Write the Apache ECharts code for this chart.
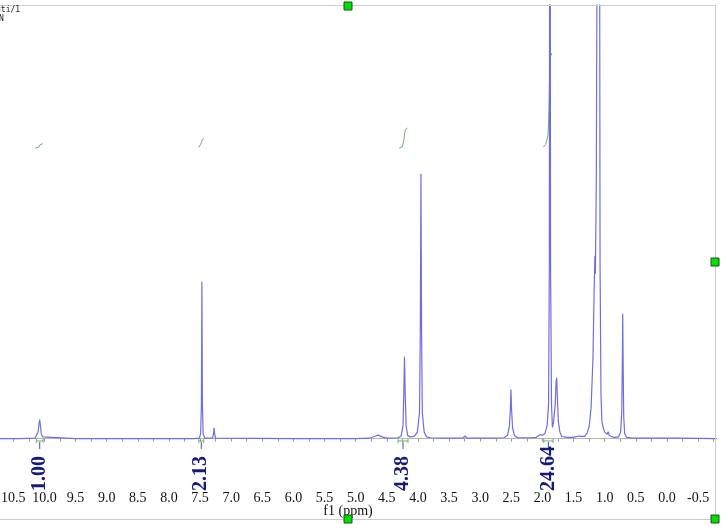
<!DOCTYPE html>
<html>
<head>
<meta charset="utf-8">
<script src="https://cdn.jsdelivr.net/npm/echarts@6/dist/echarts.min.js"></script>
<style>
html,body{margin:0;padding:0;background:#fff;}
#chart{width:727px;height:530px;}
</style>
</head>
<body>
<div id="chart"></div>
<script>
// ---- data ----
const spectrumPpm = [10.72,10.40,10.15,10.12,10.10,10.085,10.075,10.065,10.05,10.03,10.0,9.5,8.5,7.60,7.51,7.49,7.478,7.47,7.462,7.45,7.42,7.30,7.285,7.275,7.265,7.25,6.0,5.0,4.78,4.70,4.64,4.58,4.50,4.32,4.27,4.24,4.228,4.216,4.204,4.19,4.165,4.12,4.06,4.01,3.975,3.962,3.952,3.942,3.93,3.90,3.86,3.80,3.60,3.47,3.44,3.41,3.28,3.245,3.21,2.80,2.62,2.56,2.53,2.515,2.506,2.497,2.48,2.45,2.40,2.20,2.10,2.04,2.02,2.00,1.96,1.925,1.902,1.89,1.88,1.87,1.855,1.84,1.82,1.795,1.782,1.772,1.762,1.745,1.72,1.69,1.60,1.50,1.42,1.40,1.37,1.32,1.285,1.25,1.22,1.19,1.17,1.158,1.15,1.135,1.115,1.10,1.085,1.075,1.06,1.045,1.025,1.00,0.96,0.945,0.93,0.91,0.88,0.84,0.78,0.745,0.727,0.717,0.711,0.705,0.695,0.68,0.65,0.55,0.0,-0.15,-0.175,-0.20,-0.80];
const spectrumInt = [0,0,0.1,0.5,1.6,3.5,4.4,3.2,1.2,0.4,0.1,0,0,0,0.1,1.2,8,36.2,8,1.0,0.1,0.1,1.0,2.5,1.0,0.1,0,0,0.1,0.5,0.8,0.4,0.1,0.2,0.6,3,10,18.9,10,3,0.7,0.4,0.5,1.5,6,25,61.1,25,6,1.5,0.4,0.2,0.1,0.1,0.4,0.1,0.1,0.6,0.1,0.1,0.2,0.8,3,7,11.3,7,2.5,0.7,0.2,0.2,0.3,0.9,1.3,0.8,1.2,3,8,40,200,40,8,2.6,4,8,13,14.1,10,4,1.5,0.5,0.3,0.3,0.6,0.8,0.5,0.5,1.2,2.8,7,18,34,42.2,38,60,150,300,150,40,10,4,2.5,1.5,1.0,1.6,0.8,1.1,0.4,0.3,0.4,1.5,6,18,28.8,18,5,1.2,0.3,0.1,0.1,0.1,0.5,0.1,0];

// integral curves (ppm, curve level)
const integ1Ppm = [10.15,10.09,10.07,10.03];
const integ1Val = [67.0,67.2,67.8,68.0];
const integ2Ppm = [7.52,7.49,7.475,7.465,7.44];
const integ2Val = [67.2,67.4,68.3,69.0,69.2];
const integ3Ppm = [4.30,4.25,4.225,4.205,4.17];
const integ3Val = [67.0,67.3,69.0,71.2,71.6];
const integ4Ppm = [1.99,1.95,1.91,1.895,1.885,1.875,1.85];
const integ4Val = [67.2,67.8,70.0,76.0,84.0,88.0,88.9];

// integration regions and their labels
const integralFrom = [10.13,7.52,4.32,1.98];
const integralTo = [10.02,7.44,4.16,1.83];
const integralLabels = ['1.00','2.13','4.38','24.64'];

// axis ticks / labels
const tickValues = [-0.75,-0.5,-0.25,0,0.25,0.5,0.75,1,1.25,1.5,1.75,2,2.25,2.5,2.75,3,3.25,3.5,3.75,4,4.25,4.5,4.75,5,5.25,5.5,5.75,6,6.25,6.5,6.75,7,7.25,7.5,7.75,8,8.25,8.5,8.75,9,9.25,9.5,9.75,10,10.25,10.5];
const labelValues = [-0.5,0,0.5,1,1.5,2,2.5,3,3.5,4,4.5,5,5.5,6,6.5,7,7.5,8,8.5,9,9.5,10,10.5];

const zip = (a,b) => a.map((v,i)=>[v,b[i]]);

const chart = echarts.init(document.getElementById('chart'), null, {renderer:'canvas'});
const integColor = '#6fb06f';
const integSeries = [[integ1Ppm,integ1Val],[integ2Ppm,integ2Val],[integ3Ppm,integ3Val],[integ4Ppm,integ4Val]].map(p => ({
  type:'line', data: zip(p[0],p[1]), symbol:'none', silent:true,
  lineStyle:{color:integColor, width:1}, z:2
}));

chart.setOption({
  animation:false,
  backgroundColor:'#ffffff',
  grid:{left:0, right:12, top:5, bottom:48, containLabel:false, outerBoundsMode:'none'},
  xAxis:{
    type:'value', inverse:true, min:-0.771, max:10.713,
    splitLine:{show:false},
    axisLine:{show:true, lineStyle:{color:'#b4b4b4', width:1}},
    axisTick:{show:true, customValues:tickValues, length:3, inside:false, lineStyle:{color:'#999'}},
    axisLabel:{show:true, customValues:labelValues, margin:9, hideOverlap:false,
      formatter:v => v.toFixed(1),
      fontFamily:'Liberation Serif', fontSize:14, color:'#111'}
  },
  yAxis:{type:'value', min:-10, max:100, show:false, splitLine:{show:false}},
  series:[
    {type:'line', data: zip(spectrumPpm, spectrumInt), symbol:'none', clip:true,
     lineStyle:{color:'#6e6ee2', width:1.2}, z:3, silent:true},
    ...integSeries,
    {type:'custom', z:5, silent:true, clip:false,
     data: integralFrom.map((f,i)=>[f, integralTo[i]]),
     renderItem:function(params, api){
       const f = api.value(0), t = api.value(1);
       const c = (f+t)/2;
       const pA = api.coord([f, -0.54]);
       const pB = api.coord([t, -0.54]);
       const pC = api.coord([c, -0.54]);
       const pT = api.coord([c, -12.1]);
       return {type:'group', children:[
         {type:'line', shape:{x1:pA[0],y1:pA[1],x2:pB[0],y2:pB[1]}, style:{stroke:integColor, lineWidth:1}},
         {type:'line', shape:{x1:pA[0],y1:pA[1]-2,x2:pA[0],y2:pA[1]+2}, style:{stroke:integColor, lineWidth:1}},
         {type:'line', shape:{x1:pB[0],y1:pB[1]-2,x2:pB[0],y2:pB[1]+2}, style:{stroke:integColor, lineWidth:1}},
         {type:'line', shape:{x1:pC[0],y1:pC[1]+1,x2:pC[0],y2:pC[1]+8}, style:{stroke:'#4a4f9a', lineWidth:1}},
         {type:'text', x:pT[0], y:pT[1], rotation:Math.PI/2,
          style:{text:integralLabels[params.dataIndex], font:'bold 20px "Liberation Serif"', fill:'#15197d', align:'left', verticalAlign:'middle'}}
       ]};
     }
    }
  ],
  graphic:[
    {type:'line', shape:{x1:0,y1:5.5,x2:715,y2:5.5}, style:{stroke:'#cccccc', lineWidth:1}, z:10},
    {type:'line', shape:{x1:715.5,y1:5,x2:715.5,y2:519}, style:{stroke:'#cccccc', lineWidth:1}, z:10},
    {type:'line', shape:{x1:0,y1:519.5,x2:715,y2:519.5}, style:{stroke:'#cccccc', lineWidth:1}, z:10},
    {type:'text', x:348, y:511, style:{text:'f1 (ppm)', font:'14px "Liberation Serif"', fill:'#111', align:'center', verticalAlign:'middle'}, z:10},
    {type:'text', x:-4, y:10, style:{text:'uti/1', font:'8px "DejaVu Sans Mono"', fill:'#222', verticalAlign:'middle'}, z:10},
    {type:'text', x:-1, y:19, style:{text:'N', font:'8px "DejaVu Sans Mono"', fill:'#222', verticalAlign:'middle'}, z:10},
    {type:'rect', shape:{x:344,y:2,width:8,height:8}, style:{fill:'#00e000', stroke:'#1f4f1f', lineWidth:1}, z:20},
    {type:'rect', shape:{x:711,y:258,width:8,height:8}, style:{fill:'#00e000', stroke:'#1f4f1f', lineWidth:1}, z:20},
    {type:'rect', shape:{x:344,y:515,width:8,height:8}, style:{fill:'#00e000', stroke:'#1f4f1f', lineWidth:1}, z:20},
    {type:'rect', shape:{x:711,y:515,width:8,height:8}, style:{fill:'#00e000', stroke:'#1f4f1f', lineWidth:1}, z:20}
  ]
});
</script>
</body>
</html>
